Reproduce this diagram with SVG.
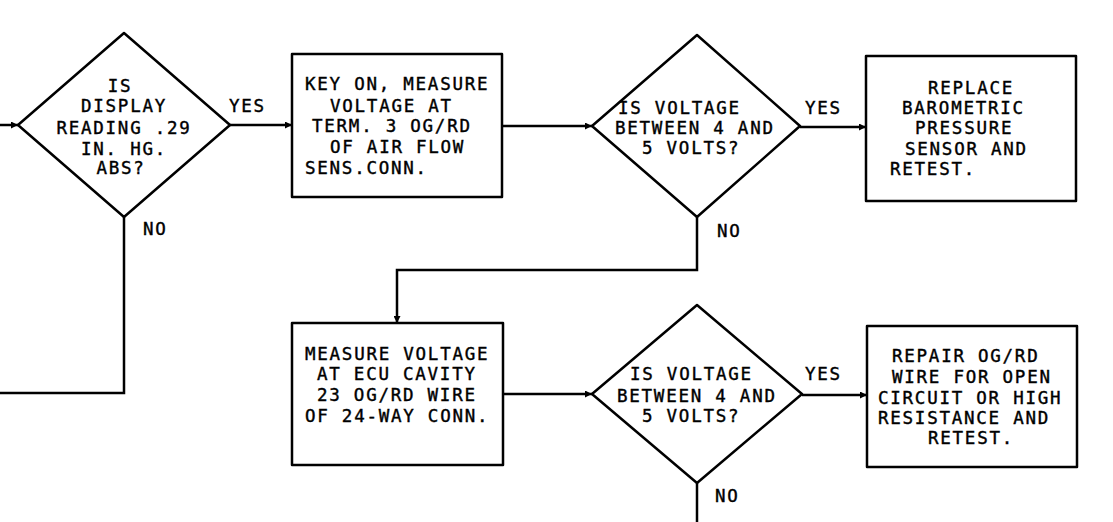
<svg xmlns="http://www.w3.org/2000/svg" width="1113" height="522" viewBox="0 0 1113 522">
<defs>
<style>
.shape{fill:#fff;stroke:#000;stroke-width:2.5;stroke-linejoin:round}
.wire{fill:none;stroke:#000;stroke-width:2.5}
text{font-family:"DejaVu Sans Mono","Liberation Mono",monospace;font-size:17.5px;letter-spacing:1.75px;fill:#000;stroke:#000;stroke-width:0.4}
.m{text-anchor:middle}
</style>
<marker id="ah" viewBox="0 0 10 10" refX="10" refY="5" markerWidth="9" markerHeight="7" markerUnits="userSpaceOnUse" orient="auto">
<path d="M0,0 L10,5 L0,10 Z" fill="#000"/>
</marker>
</defs>
<rect width="1113" height="522" fill="#fff"/>
<g id="connectors">
<path class="wire" d="M0,125 H18" marker-end="url(#ah)"/>
<path class="wire" d="M230,125 H292" marker-end="url(#ah)"/>
<path class="wire" d="M502,126 H592" marker-end="url(#ah)"/>
<path class="wire" d="M800,127 H866" marker-end="url(#ah)"/>
<path class="wire" d="M124,217 V393 H0"/>
<path class="wire" d="M697,217 V270 H397 V323" marker-end="url(#ah)"/>
<path class="wire" d="M503,394 H592" marker-end="url(#ah)"/>
<path class="wire" d="M802,395 H867" marker-end="url(#ah)"/>
<path class="wire" d="M697,483 V522"/>
<text x="229" y="111.5">YES</text>
<text x="143" y="234.5">NO</text>
<text x="805" y="113.5">YES</text>
<text x="717" y="236.5">NO</text>
<text x="805" y="379.5">YES</text>
<text x="715" y="501.5">NO</text>
</g>
<g id="d1">
<polygon class="shape" points="124,33 230,125 124,217 18,125"/>
<text x="120" y="91.5" class="m">IS</text>
<text x="124" y="111.5" class="m">DISPLAY</text>
<text x="124" y="133.5" class="m">READING .29</text>
<text x="124" y="154.5" class="m">IN. HG.</text>
<text x="121" y="173.5" class="m">ABS?</text>
</g>
<g id="b1">
<rect class="shape" x="292" y="54" width="210" height="143"/>
<text x="305" y="89.5">KEY ON, MEASURE</text>
<text x="330" y="111.5">VOLTAGE AT</text>
<text x="312" y="131.5">TERM. 3 OG/RD</text>
<text x="330" y="152.5">OF AIR FLOW</text>
<text x="305" y="173.5">SENS.CONN.</text>
</g>
<g id="d2">
<polygon class="shape" points="697,35 800,126 697,217 592,126"/>
<text x="618" y="113.5">IS VOLTAGE</text>
<text x="615" y="133.5">BETWEEN 4 AND</text>
<text x="642" y="153.5">5 VOLTS?</text>
</g>
<g id="b3">
<rect class="shape" x="866" y="56" width="210" height="145"/>
<text x="928" y="93.5">REPLACE</text>
<text x="902" y="113.5">BAROMETRIC</text>
<text x="915" y="133.5">PRESSURE</text>
<text x="905" y="154.5">SENSOR AND</text>
<text x="890" y="174.5">RETEST.</text>
</g>
<g id="b2">
<rect class="shape" x="292" y="323" width="211" height="142"/>
<text x="305" y="359.5">MEASURE VOLTAGE</text>
<text x="317" y="379.5">AT ECU CAVITY</text>
<text x="317" y="400.5">23 OG/RD WIRE</text>
<text x="305" y="421.5">OF 24-WAY CONN.</text>
</g>
<g id="d3">
<polygon class="shape" points="697,305 802,394 697,483 592,394"/>
<text x="630" y="379.5">IS VOLTAGE</text>
<text x="617" y="401.5">BETWEEN 4 AND</text>
<text x="642" y="421.5">5 VOLTS?</text>
</g>
<g id="b4">
<rect class="shape" x="867" y="326" width="210" height="141"/>
<text x="892" y="361.5">REPAIR OG/RD</text>
<text x="892" y="382.5">WIRE FOR OPEN</text>
<text x="878" y="403.5">CIRCUIT OR HIGH</text>
<text x="878" y="423.5">RESISTANCE AND</text>
<text x="928" y="443.5">RETEST.</text>
</g>
</svg>
